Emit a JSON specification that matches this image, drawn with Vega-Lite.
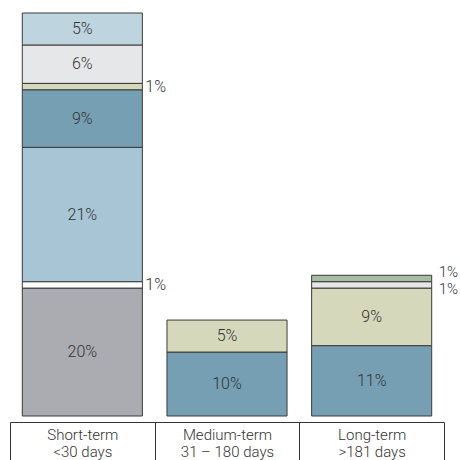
{
  "$schema": "https://vega.github.io/schema/vega-lite/v6.json",
  "autosize": {"type": "none"},
  "padding": {"left": 10, "top": 13, "right": 16, "bottom": 44},
  "width": 434,
  "height": 403,
  "background": "#ffffff",
  "view": {"stroke": null},
  "data": {
    "values": [
      {"term": "Short-term|<30 days", "seg": "grey", "order": 1, "value": 0.20},
      {"term": "Short-term|<30 days", "seg": "white", "order": 2, "value": 0.01},
      {"term": "Short-term|<30 days", "seg": "lightblue", "order": 3, "value": 0.21},
      {"term": "Short-term|<30 days", "seg": "steel", "order": 4, "value": 0.09},
      {"term": "Short-term|<30 days", "seg": "khaki", "order": 5, "value": 0.01},
      {"term": "Short-term|<30 days", "seg": "lightgrey", "order": 6, "value": 0.06},
      {"term": "Short-term|<30 days", "seg": "paleblue", "order": 7, "value": 0.05},
      {"term": "Medium-term|31 – 180 days", "seg": "steel", "order": 4, "value": 0.10},
      {"term": "Medium-term|31 – 180 days", "seg": "khaki", "order": 5, "value": 0.05},
      {"term": "Long-term|>181 days", "seg": "steel", "order": 4, "value": 0.11},
      {"term": "Long-term|>181 days", "seg": "khaki", "order": 5, "value": 0.09},
      {"term": "Long-term|>181 days", "seg": "lightgrey", "order": 6, "value": 0.01},
      {"term": "Long-term|>181 days", "seg": "sage", "order": 8, "value": 0.01}
    ]
  },
  "encoding": {
    "x": {
      "field": "term",
      "type": "nominal",
      "sort": null,
      "scale": {"paddingInner": 0, "paddingOuter": 0},
      "axis": {
        "title": null,
        "offset": 6,
        "domainColor": "#333333",
        "domainWidth": 1,
        "tickColor": "#333333",
        "tickBand": "extent",
        "tickSize": 40,
        "labelPadding": -35,
        "labelAngle": 0,
        "labelBaseline": "top",
        "labelExpr": "split(datum.label, '|')",
        "labelFont": "Roboto",
        "labelFontWeight": 300,
        "labelFontSize": 15,
        "labelLineHeight": 17,
        "labelColor": "#333333"
      }
    },
    "order": {"field": "order", "type": "quantitative"},
    "detail": {"field": "seg", "type": "nominal"}
  },
  "layer": [
    {
      "mark": {"type": "bar", "width": {"band": 0.83}, "stroke": "#3a3a3a", "strokeWidth": 1, "opacity": 1},
      "encoding": {
        "y": {"field": "value", "type": "quantitative", "stack": "zero", "scale": {"domain": [0, 0.63], "nice": false, "zero": true}, "axis": null},
        "color": {
          "field": "seg",
          "type": "nominal",
          "scale": {
            "domain": ["grey", "white", "lightblue", "steel", "khaki", "lightgrey", "paleblue", "sage"],
            "range": ["#abacb1", "#ffffff", "#a7c5d4", "#769fb3", "#d5d8bb", "#e6e7e9", "#bed4df", "#a8bba3"]
          },
          "legend": null
        }
      }
    },
    {
      "mark": {"type": "text", "font": "Roboto", "fontWeight": 300, "fontSize": 16, "color": "#333333", "baseline": "middle", "align": "center"},
      "encoding": {
        "y": {"field": "value", "type": "quantitative", "stack": "zero", "bandPosition": 0.5},
        "text": {"field": "value", "type": "quantitative", "format": ".0%"},
        "opacity": {"condition": {"test": "datum.value >= 0.05", "value": 1}, "value": 0}
      }
    },
    {
      "mark": {"type": "text", "font": "Roboto", "fontWeight": 300, "fontSize": 16, "color": "#333333", "baseline": "middle", "align": "left", "dx": 3},
      "encoding": {
        "x": {"field": "term", "type": "nominal", "sort": null, "bandPosition": 0.915},
        "y": {"field": "value", "type": "quantitative", "stack": "zero", "bandPosition": 0.5},
        "text": {"field": "value", "type": "quantitative", "format": ".0%"},
        "opacity": {"condition": {"test": "datum.value < 0.05 && indexof(datum.term, 'Long') < 0", "value": 1}, "value": 0}
      }
    },
    {
      "mark": {"type": "text", "font": "Roboto", "fontWeight": 300, "fontSize": 15, "color": "#333333", "baseline": "middle", "align": "left", "dx": 7, "dy": -6},
      "encoding": {
        "x": {"field": "term", "type": "nominal", "sort": null, "bandPosition": 0.915},
        "y": {"field": "value", "type": "quantitative", "stack": "zero", "bandPosition": 0.5},
        "text": {"field": "value", "type": "quantitative", "format": ".0%"},
        "opacity": {"condition": {"test": "datum.seg == 'sage'", "value": 1}, "value": 0}
      }
    },
    {
      "mark": {"type": "text", "font": "Roboto", "fontWeight": 300, "fontSize": 15, "color": "#333333", "baseline": "middle", "align": "left", "dx": 7, "dy": 4},
      "encoding": {
        "x": {"field": "term", "type": "nominal", "sort": null, "bandPosition": 0.915},
        "y": {"field": "value", "type": "quantitative", "stack": "zero", "bandPosition": 0.5},
        "text": {"field": "value", "type": "quantitative", "format": ".0%"},
        "opacity": {"condition": {"test": "datum.seg == 'lightgrey' && indexof(datum.term, 'Long') >= 0", "value": 1}, "value": 0}
      }
    }
  ]
}
